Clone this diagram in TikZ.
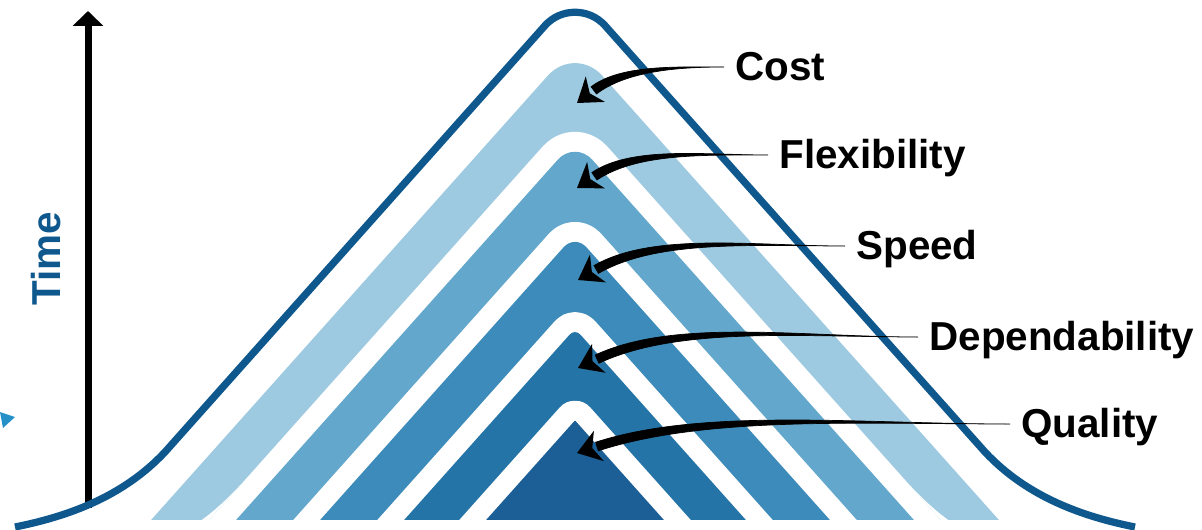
\documentclass[tikz,border=0pt]{standalone}
\usepackage{fontspec}
\setmainfont{Liberation Sans}
\usepackage{tikz}
\usetikzlibrary{arrows.meta,calc}

\definecolor{bandA}{HTML}{9ECAE1}
\definecolor{bandB}{HTML}{63A7CD}
\definecolor{bandC}{HTML}{3C8BBA}
\definecolor{bandD}{HTML}{2574A7}
\definecolor{bandE}{HTML}{1C5F96}
\definecolor{bell}{HTML}{0E588E}
\definecolor{tipblue}{HTML}{2390C8}

\begin{document}
\begin{tikzpicture}[x=0.02cm, y=-0.02cm,
    lbl/.style={font=\bfseries\fontsize{23}{27}\selectfont, inner sep=0pt,
                text height=16.5pt, text depth=1.2pt, anchor=west},
    gap/.style={draw=white, line width=0.8cm, line join=round},
    bellline/.style={draw=bell, line width=0.145cm},
    timeaxis/.style={-{Triangle[length=0.3cm, width=0.6cm]}, line width=0.14cm},
    shaft/.style={fill=black, draw=black, line width=0.4pt},
  ]
  \useasboundingbox (0,0) rectangle (1202,530);

  % nested bands, each one cut free from the next by a white gap
  \begin{scope}
    \clip (0,0) rectangle (1202,519);
    \foreach \y/\r/\col [count=\i] in {45.2/0.82/bandA, 140.4/0.52/bandB,
        234.5/0.34/bandC, 328.6/0.16/bandD, 420.4/0.01/bandE}{
      \pgfmathsetmacro\hw{(560-\y)/1.12}
      \ifnum\i>1
        \draw[gap, rounded corners=\r cm] (575-\hw,560) -- (575,\y) -- (575+\hw,560);
      \fi
      \fill[\col, rounded corners=\r cm] (575-\hw,560) -- (575,\y) -- (575+\hw,560) -- cycle;
    }
    \fill[white] (240.4,485) .. controls (228,498) and (214,512) .. (196,524) -- (205.5,524) -- cycle;
    \fill[white] (909.6,485) .. controls (922,498) and (936,512) .. (954,524) -- (944.5,524) -- cycle;
  \end{scope}

  \fill[tipblue] (0,412) -- (15,417) -- (3,428) -- cycle;

  % time axis
  \coordinate (t0) at (88,508);
  \coordinate (t1) at (88,11);
  \draw[timeaxis] (t0) -- (t1);
  \node[rotate=90, anchor=base, text=bell, font=\bfseries\fontsize{23}{27}\selectfont] (time) at (60,259) {Time};

  \draw[bellline] (15,527) .. controls (65,517) and (122,498) .. (165,452) -- (545,25.6)
    .. controls (560.9,7.8) and (589.1,7.8) .. (605,25.6) -- (985,452)
    .. controls (1028,498) and (1085,517) .. (1135,527);

  \node[lbl] (cost) at (735,67) {Cost};
  \node[lbl] (flex) at (779,155) {Flexibility};
  \node[lbl] (speed) at (856,246) {Speed};
  \node[lbl] (dep) at (929,337) {Dependability};
  \node[lbl] (qual) at (1021,424) {Quality};

  \coordinate (cost-t) at (577,103);
  \coordinate (flex-t) at (577,188);
  \coordinate (speed-t) at (578,280);
  \coordinate (dep-t) at (578,368);
  \coordinate (qual-t) at (577,453);

  % tapered arrows from the labels
  \foreach \n/\a/\ka/\kb in {cost/37/49/37, flex/34/64/48, speed/30/91/68,
      dep/25/117/88, qual/18/150/113}{
    \pgfmathsetmacro\co{cos(\a)}
    \pgfmathsetmacro\si{sin(\a)}
    \coordinate (\n-b) at ($(\n-t)+({21*\co},{-21*\si})$);
    \coordinate (\n-s) at ($(\n.west)+(-11,0)$);
    \filldraw[shaft] (\n-s) .. controls +(-\ka,0) and +({\kb*\co},{-\kb*\si})
        .. ($(\n-b)+({-4.5*\si},{-4.5*\co})$)
      -- ($(\n-b)+({4.5*\si},{4.5*\co})$) .. controls +({\kb*\co},{-\kb*\si}) and +(-\ka,0)
        .. (\n-s) -- cycle;
    \fill (\n-t) -- ($(\n-b)+({-16*\si+2*\co},{-16*\co-2*\si})$) -- ($(\n-b)+({-5*\co},{5*\si})$)
      -- ($(\n-b)+({16*\si+2*\co},{16*\co-2*\si})$) -- cycle;
  }
\end{tikzpicture}
\end{document}
